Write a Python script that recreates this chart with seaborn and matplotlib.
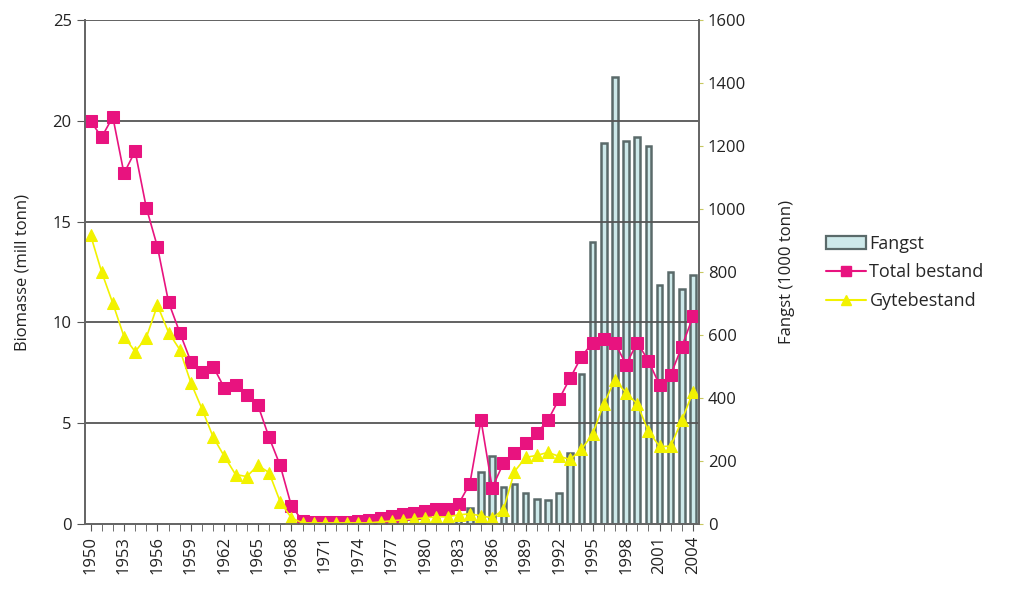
import matplotlib
matplotlib.use('Agg')
import matplotlib.pyplot as plt
import numpy as np
import pandas as pd
import seaborn as sns
from matplotlib.lines import Line2D
from matplotlib.patches import Patch

years = list(range(1950, 2005))

total_bestand = [20.0, 19.2, 20.2, 17.4, 18.5, 15.7, 13.75, 11.0, 9.5, 8.05,
                 7.55, 7.8, 6.75, 6.9, 6.4, 5.9, 4.3, 2.9, 0.9, 0.15,
                 0.1, 0.1, 0.1, 0.1, 0.15, 0.2, 0.3, 0.4, 0.5, 0.55,
                 0.65, 0.75, 0.75, 1.0, 2.0, 5.15, 1.8, 3.0, 3.5, 4.0,
                 4.5, 5.15, 6.2, 7.25, 8.3, 9.0, 9.2, 9.0, 7.9, 9.0,
                 8.1, 6.9, 7.4, 8.8, 10.3]

gytebestand = [14.35, 12.5, 10.95, 9.3, 8.55, 9.25, 10.85, 9.5, 8.65, 7.0,
               5.7, 4.3, 3.35, 2.45, 2.35, 2.9, 2.55, 1.1, 0.3, 0.05,
               0.05, 0.05, 0.05, 0.05, 0.05, 0.05, 0.1, 0.15, 0.2, 0.25,
               0.3, 0.35, 0.35, 0.45, 0.5, 0.4, 0.3, 0.7, 2.6, 3.3,
               3.4, 3.55, 3.35, 3.2, 3.7, 4.45, 5.95, 7.15, 6.5, 5.95,
               4.6, 3.85, 3.85, 5.15, 6.55]

fangst = [0, 0, 0, 0, 0, 0, 0, 0, 0, 0,
          0, 0, 0, 0, 0, 0, 0, 0, 0, 0,
          0, 0, 0, 0, 0, 0, 0, 3, 8, 10,
          12, 15, 12, 20, 50, 165, 215, 117, 127, 98,
          80, 76, 98, 225, 476, 895, 1210, 1419, 1216, 1229,
          1200, 759, 800, 746, 790]

tick_years = list(range(1950, 2005, 3))

df = pd.DataFrame({'year': years, 'pos': np.arange(len(years)),
                   'total': total_bestand, 'gyte': gytebestand, 'fangst': fangst})

sns.set_style('white')
plt.rcParams['font.family'] = ['Open Sans', 'DejaVu Sans']

pink = '#e8137f'
yellow = '#f2f200'
bar_face = '#cde9ea'
bar_edge = '#5a6a6a'
grid_col = '#555555'

fig = plt.figure(figsize=(10.11, 5.96), dpi=100)
ax = fig.add_axes([0.084, 0.121, 0.607, 0.845])
ax2 = ax.twinx()

# bars on the right axis
sns.barplot(data=df, x='pos', y='fangst', ax=ax2, color=bar_face, width=0.5,
            edgecolor=bar_edge, linewidth=1.8, saturation=1, native_scale=True)

# lines on the left axis (drawn on top)
ax.set_zorder(ax2.get_zorder() + 1)
ax.patch.set_visible(False)
sns.lineplot(data=df, x='pos', y='total', ax=ax, color=pink, marker='s',
             markersize=9, markeredgecolor=pink, linewidth=1.2)
sns.lineplot(data=df, x='pos', y='gyte', ax=ax, color=yellow, marker='^',
             markersize=9, markeredgecolor=yellow, linewidth=1.2)

ax.set_xlim(-0.5, len(years) - 0.5)
ax.set_ylim(0, 25)
ax2.set_ylim(0, 1600)
ax.set_yticks([0, 5, 10, 15, 20, 25])
ax2.set_yticks(range(0, 1601, 200))

ax.set_xticks([years.index(y) for y in tick_years])
ax.set_xticklabels([str(y) for y in tick_years], rotation=90, fontsize=12, color='#222222')
ax.set_xticks(np.arange(len(years)), minor=True)
ax.tick_params(axis='x', which='both', direction='out', length=5, color=grid_col,
               bottom=True, labelbottom=True)
ax2.tick_params(axis='x', which='both', bottom=False, labelbottom=False)
ax.tick_params(axis='y', direction='out', length=6, color=grid_col, labelsize=12,
               labelcolor='#222222', left=True)
ax2.tick_params(axis='y', direction='out', length=3, color='#c8c860', labelsize=12,
                labelcolor='#222222', right=True)

for y in [5, 10, 15, 20, 25]:
    ax.axhline(y, color=grid_col, linewidth=1.3, zorder=0)

ax.set_xlabel('')
ax2.set_xlabel('')
ax.set_ylabel('Biomasse (mill tonn)', fontsize=12, color='#222222', labelpad=16)
ax2.set_ylabel('Fangst (1000 tonn)', fontsize=12, color='#222222', labelpad=24)

for a in (ax, ax2):
    a.spines['top'].set_visible(False)
    for s in ('left', 'right', 'bottom'):
        a.spines[s].set_color('#666666')
        a.spines[s].set_linewidth(1.3)

handles = [Patch(facecolor=bar_face, edgecolor=bar_edge, linewidth=1.6, label='Fangst'),
           Line2D([0], [0], color=pink, marker='s', markersize=7, label='Total bestand'),
           Line2D([0], [0], color=yellow, marker='^', markersize=7, label='Gytebestand')]
fig.legend(handles=handles, loc='center left', bbox_to_anchor=(0.81, 0.543),
           frameon=False, fontsize=13, handlelength=2.2, handletextpad=0.2,
           labelspacing=0.6, borderaxespad=0)

fig.savefig('out.png', dpi=100)
